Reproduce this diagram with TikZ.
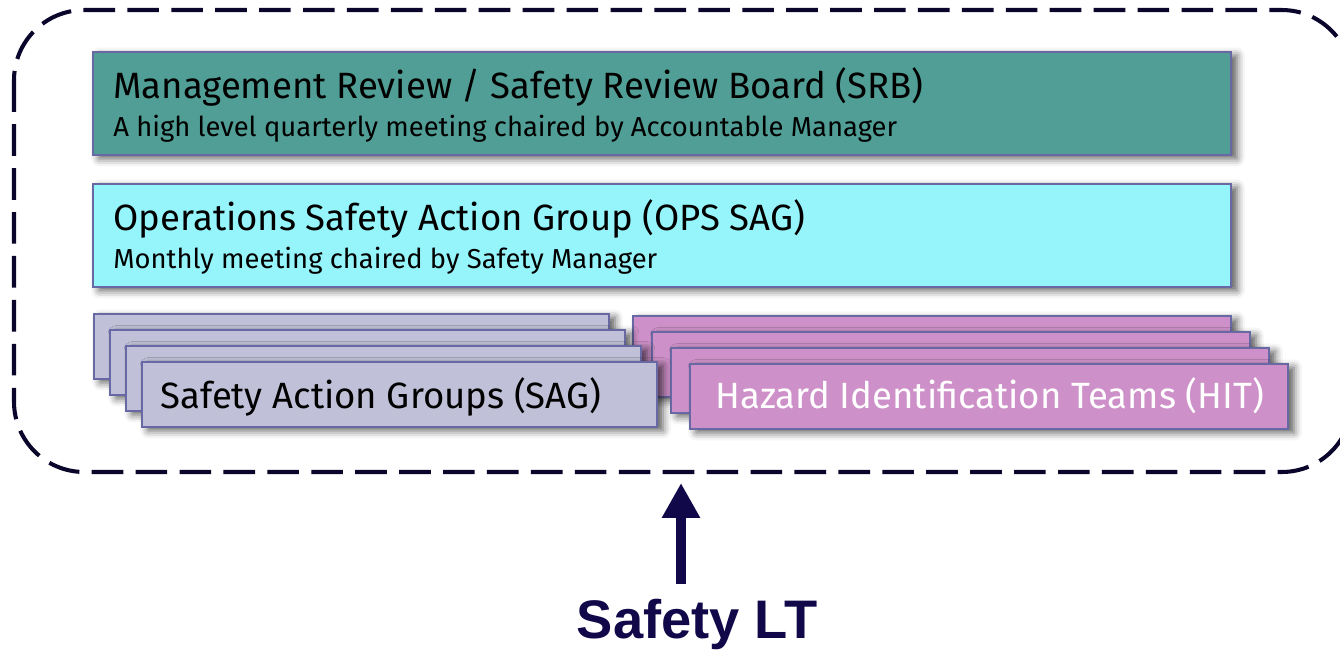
\documentclass[tikz,border=0pt]{standalone}
\usepackage{fontspec}
\setmainfont{Fira Sans}
\newfontfamily\ltfont{Liberation Sans}
\usetikzlibrary{arrows.meta,shadows.blur}

\definecolor{boxline}{RGB}{104,104,164}
\definecolor{srbteal}{RGB}{80,158,149}
\definecolor{opscyan}{RGB}{150,245,251}
\definecolor{saggrey}{RGB}{192,192,216}
\definecolor{hitpink}{RGB}{206,144,200}
\definecolor{ltnavy}{RGB}{16,8,72}

\newcommand{\titlesize}{\fontsize{20.8}{24}\selectfont}
\newcommand{\subsize}{\fontsize{15.6}{18}\selectfont}

\begin{document}
\begin{tikzpicture}[x=0.02cm,y=-0.02cm,
  box/.style={draw=boxline,line width=1.1pt,anchor=north west,inner sep=0pt,
    blur shadow={shadow xshift=3.5pt,shadow yshift=-2pt,shadow blur radius=4.5pt,shadow opacity=65}},
  wide/.style={box,minimum width=22.76cm,minimum height=2.06cm},
  sagbox/.style={box,fill=saggrey,minimum width=10.3cm,minimum height=1.3cm},
  hitbox/.style={box,fill=hitpink,minimum width=11.96cm,minimum height=1.3cm},
  txt/.style={anchor=base west,inner sep=0pt}]
  \useasboundingbox (0,0) rectangle (1340,650);

  % dashed frame
  \draw[line width=2.3pt,dash pattern=on 18pt off 7pt,rounded corners=40pt,color=ltnavy!60!black]
    (14,10) rectangle (1352,472);

  % top two levels
  \node[wide,fill=srbteal] (srb) at (92,51) {};
  \node[txt,font=\titlesize] (srbtitle) at (113,98) {Management Review / Safety Review Board (SRB)};
  \node[txt,font=\subsize] (srbsub) at (113,136) {A high level quarterly meeting chaired by Accountable Manager};

  \node[wide,fill=opscyan] (ops) at (92,183) {};
  \node[txt,font=\titlesize] (opstitle) at (113,230) {Operations Safety Action Group (OPS SAG)};
  \node[txt,font=\subsize] (opssub) at (113,268) {Monthly meeting chaired by Safety Manager};

  % stacked groups
  \foreach \i in {0,1,2,3}
    \node[hitbox] (hit\i) at (632+19*\i,315+16*\i) {};
  \foreach \i in {0,1,2,3}
    \node[sagbox] (sag\i) at (93+16*\i,313+16*\i) {};
  \node[txt,font=\titlesize] (sagtext) at (160,408) {Safety Action Groups (SAG)};
  \node[txt,font=\titlesize,text=white] (hittext) at (715,408) {Hazard Identification Teams (HIT)};

  % arrow
  \node[font=\ltfont\bfseries\fontsize{30.9}{34}\selectfont,text=ltnavy,inner sep=0pt] (lt) at (697,624) {Safety LT};
  \coordinate (tip) at (681,483);
  \draw[ltnavy,line width=6.2pt,-{Triangle[width=20.4pt,length=19.8pt]}]
    (tip |- lt.north) ++(0,-14) -- (tip);
\end{tikzpicture}
\end{document}
